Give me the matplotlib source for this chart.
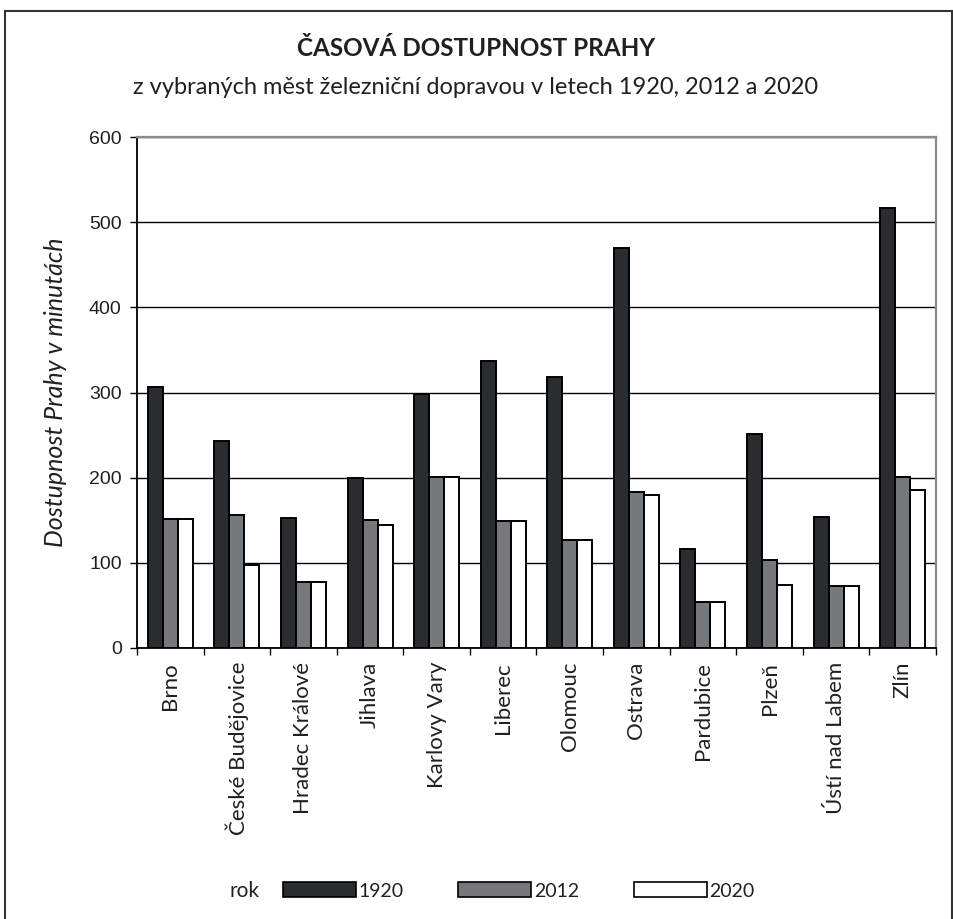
import numpy as np
import matplotlib
matplotlib.use('Agg')
import matplotlib.pyplot as plt
from matplotlib.patches import Patch, Rectangle

# data
mesta = ['Brno', 'České Budějovice', 'Hradec Králové', 'Jihlava', 'Karlovy Vary',
         'Liberec', 'Olomouc', 'Ostrava', 'Pardubice', 'Plzeň', 'Ústí nad Labem', 'Zlín']
roky = ['1920', '2012', '2020']
v1920 = [307, 243, 153, 200, 298, 337, 318, 470, 116, 251, 154, 517]
v2012 = [152, 156, 78, 150, 201, 149, 127, 183, 54, 103, 73, 201]
v2020 = [152, 97, 78, 145, 201, 149, 127, 180, 54, 74, 73, 185]
yticks = [0, 100, 200, 300, 400, 500, 600]

barvy = ['#2a2d30', '#76797c', '#ffffff']
txt = '#231f20'
font = 'Lato'

fig = plt.figure(figsize=(9.54, 9.19), dpi=100)
ax = fig.add_axes([137 / 954, 1 - 648 / 919, (936 - 137) / 954, (648 - 137) / 919])

x = np.arange(len(mesta))
w = 0.225
for i, (vals, c) in enumerate(zip([v1920, v2012, v2020], barvy)):
    ax.bar(x + (i - 1) * w, vals, width=w, color=c, edgecolor='black',
           linewidth=1.4, zorder=3, label=roky[i])

ax.set_xlim(-0.5, len(mesta) - 0.5)
ax.set_ylim(0, 600)
ax.set_yticks(yticks)
ax.set_yticklabels([str(t) for t in yticks], fontsize=14, color=txt, family='Liberation Sans')
ax.set_xticks(x)
ax.set_xticklabels(mesta, rotation=90, fontsize=16, color=txt, family=font, va='top')
ax.set_xticks(np.arange(len(mesta) + 1) - 0.5, minor=True)
ax.tick_params(axis='x', which='major', length=0, pad=10)
ax.tick_params(axis='x', which='minor', length=5, width=1, direction='out', color='black')
ax.tick_params(axis='y', length=5, width=1, color='black', pad=6)

ax.set_axisbelow(True)
ax.yaxis.grid(True, color='black', linewidth=1)
for s in ['left', 'bottom']:
    ax.spines[s].set_color('black')
    ax.spines[s].set_linewidth(1.3)
for s in ['top', 'right']:
    ax.spines[s].set_color('#8a8a8a')
    ax.spines[s].set_linewidth(1.6)

ax.set_ylabel('Dostupnost Prahy v minutách', fontsize=18, style='italic',
              family=font, color=txt, labelpad=16)

fig.text(476 / 954, 1 - 49 / 919, 'ČASOVÁ DOSTUPNOST PRAHY', ha='center', va='center',
         fontsize=17.5, fontweight='bold', family=font, color=txt)
fig.text(476 / 954, 1 - 88 / 919, 'z vybraných měst železniční dopravou v letech 1920, 2012 a 2020',
         ha='center', va='center', fontsize=17, family=font, color=txt)

# legend
handles = [Patch(facecolor=c, edgecolor='black', linewidth=1.2) for c in barvy]
fig.legend(handles, roky, loc='center left', bbox_to_anchor=(283 / 954, 1 - 891 / 919),
           ncol=3, frameon=False, handlelength=3.75, handleheight=0.8, handletextpad=0.15,
           columnspacing=2.8, prop={'family': font, 'size': 14}, labelcolor=txt,
           borderpad=0, borderaxespad=0)
fig.text(230 / 954, 1 - 891 / 919, 'rok', ha='left', va='center', fontsize=15,
         family=font, color=txt)

# outer frame
fig.patches.append(Rectangle((5 / 954, -0.01), 947 / 954, 1.01 - 11 / 919,
                             transform=fig.transFigure, fill=False,
                             edgecolor='#333333', linewidth=1.5))

fig.savefig('out.png', dpi=100)
